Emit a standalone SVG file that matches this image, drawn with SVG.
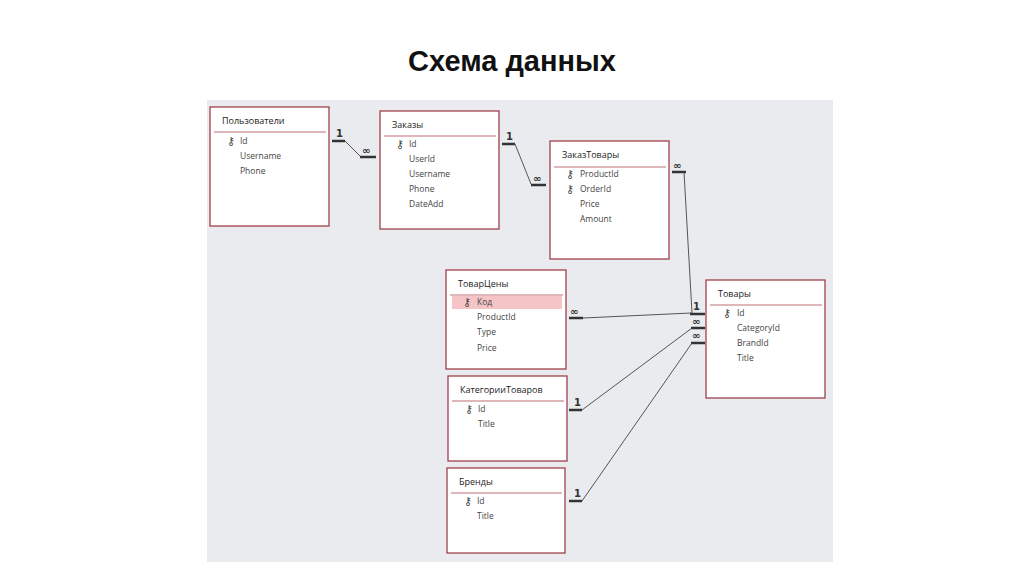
<svg xmlns="http://www.w3.org/2000/svg" width="1024" height="574" viewBox="0 0 1024 574">
<style>
.t{fill:#fff;stroke:#a0404a;stroke-width:1.3}
.h{stroke:#c07078;stroke-width:1.2}
.n{font-family:"Open Sans","Liberation Sans",sans-serif;font-size:9px;fill:#222}
.f{font-family:"Open Sans","Liberation Sans",sans-serif;font-size:8.5px;fill:#444}
.k{font-family:"DejaVu Sans",sans-serif;font-size:11px;fill:#444}
.c{stroke:#555;stroke-width:1;fill:none}
.b{stroke:#333;stroke-width:2.5}
.m{font-family:"DejaVu Sans",sans-serif;font-size:10px;font-weight:bold;fill:#333}
</style>
<rect width="1024" height="574" fill="#fff"/>
<text x="512" y="71" text-anchor="middle" font-family="Liberation Sans, sans-serif" font-size="29" font-weight="bold" fill="#111">Схема данных</text>
<rect x="207" y="100" width="626" height="462" fill="#e9ebee"/>
<g id="users"><rect class="t" x="210" y="107" width="119" height="119"/><text class="n" x="222" y="124">Пользователи</text><line class="h" x1="214" y1="132" x2="326" y2="132"/><text class="k" x="227" y="145">⚷</text><text class="f" x="240" y="144">Id</text><text class="f" x="240" y="159">Username</text><text class="f" x="240" y="174">Phone</text></g>
<g id="orders"><rect class="t" x="380" y="111" width="119" height="118"/><text class="n" x="392" y="128">Заказы</text><line class="h" x1="384" y1="136" x2="496" y2="136"/><text class="k" x="396" y="148">⚷</text><text class="f" x="409" y="147">Id</text><text class="f" x="409" y="162">UserId</text><text class="f" x="409" y="177">Username</text><text class="f" x="409" y="192">Phone</text><text class="f" x="409" y="207">DateAdd</text></g>
<g id="orderitems"><rect class="t" x="550" y="141" width="119" height="118"/><text class="n" x="562" y="158">ЗаказТовары</text><line class="h" x1="554" y1="167" x2="666" y2="167"/><text class="k" x="566" y="178">⚷</text><text class="f" x="580" y="177">ProductId</text><text class="k" x="566" y="193">⚷</text><text class="f" x="580" y="192">OrderId</text><text class="f" x="580" y="207">Price</text><text class="f" x="580" y="222">Amount</text></g>
<g id="prices"><rect class="t" x="446" y="270" width="120" height="99"/><text class="n" x="458" y="287">ТоварЦены</text><line class="h" x1="450" y1="295" x2="563" y2="295"/><rect x="452" y="296" width="110" height="13" fill="#f5c4c6"/><text class="k" x="463" y="306">⚷</text><text class="f" x="477" y="305">Код</text><text class="f" x="477" y="320">ProductId</text><text class="f" x="477" y="335">Type</text><text class="f" x="477" y="351">Price</text></g>
<g id="categories"><rect class="t" x="448" y="376" width="119" height="85"/><text class="n" x="460" y="393">КатегорииТоваров</text><line class="h" x1="452" y1="401" x2="564" y2="401"/><text class="k" x="465" y="413">⚷</text><text class="f" x="478" y="412">Id</text><text class="f" x="478" y="427">Title</text></g>
<g id="brands"><rect class="t" x="447" y="468" width="118" height="85"/><text class="n" x="459" y="485">Бренды</text><line class="h" x1="451" y1="493" x2="562" y2="493"/><text class="k" x="464" y="505">⚷</text><text class="f" x="477" y="504">Id</text><text class="f" x="477" y="519">Title</text></g>
<g id="products"><rect class="t" x="706" y="280" width="119" height="118"/><text class="n" x="718" y="297">Товары</text><line class="h" x1="710" y1="305" x2="822" y2="305"/><text class="k" x="723" y="317">⚷</text><text class="f" x="737" y="316">Id</text><text class="f" x="737" y="331">CategoryId</text><text class="f" x="737" y="346">BrandId</text><text class="f" x="737" y="361">Title</text></g>
<g id="connectors">
<line class="b" x1="332" y1="141" x2="345" y2="141"/><polyline class="c" points="345,141 360,156"/><line class="b" x1="360" y1="157" x2="376" y2="157"/><text class="m" x="336" y="137">1</text><text class="m" x="362" y="154">∞</text>
<line class="b" x1="502" y1="144" x2="515" y2="144"/><polyline class="c" points="515,144 531,184"/><line class="b" x1="531" y1="185" x2="546" y2="185"/><text class="m" x="506" y="140">1</text><text class="m" x="533" y="182">∞</text>
<line class="b" x1="672" y1="172" x2="686" y2="172"/><polyline class="c" points="684,172 692,313"/><text class="m" x="673" y="169">∞</text>
<line class="b" x1="690" y1="314" x2="705" y2="314"/><text class="m" x="693" y="310">1</text>
<line class="b" x1="569" y1="318" x2="583" y2="318"/><polyline class="c" points="583,318 691,313"/><text class="m" x="570" y="315">∞</text>
<line class="b" x1="691" y1="328" x2="705" y2="328"/><text class="m" x="692" y="325">∞</text>
<line class="b" x1="569" y1="410" x2="582" y2="410"/><polyline class="c" points="582,410 692,328"/><text class="m" x="574" y="406">1</text>
<line class="b" x1="691" y1="343" x2="705" y2="343"/><text class="m" x="692" y="339">∞</text>
<line class="b" x1="569" y1="501" x2="582" y2="501"/><polyline class="c" points="582,501 692,343"/><text class="m" x="574" y="497">1</text>
</g>
</svg>
